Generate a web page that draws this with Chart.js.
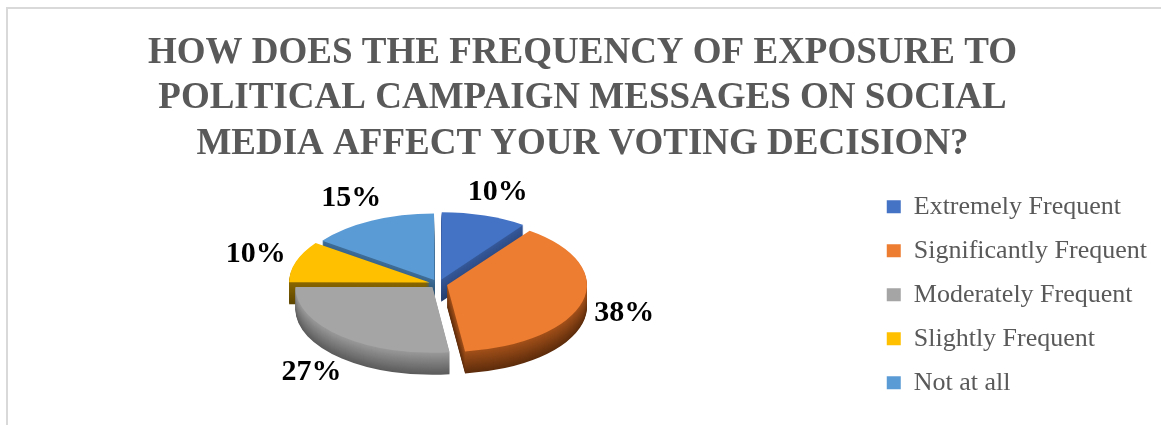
<!DOCTYPE html>
<html>
<head>
<meta charset="utf-8">
<script src="https://cdn.jsdelivr.net/npm/chart.js@4.4.1/dist/chart.umd.min.js"></script>
<style>
  html, body { margin: 0; padding: 0; background: #fff; overflow: hidden; }
  #frame { position: absolute; left: 6px; top: 7px; width: 1160px; height: 420px;
           border-top: 2px solid #d9d9d9; border-left: 2px solid #d9d9d9; }
  #wrap { position: absolute; left: 0; top: 0; width: 1153px; height: 416px; }
</style>
</head>
<body>
<div id="frame"><div id="wrap"><canvas id="votePie"></canvas></div></div>
<script>
var categories = ["Extremely Frequent", "Significantly Frequent", "Moderately Frequent", "Slightly Frequent", "Not at all"];
var shares = [10, 38, 27, 10, 15];
var titleLines = [
  "HOW DOES THE FREQUENCY OF EXPOSURE TO",
  "POLITICAL CAMPAIGN MESSAGES ON SOCIAL",
  "MEDIA AFFECT YOUR VOTING DECISION?"
];

var topColors = ['#4472C4', '#ED7D31', '#A5A5A5', '#FFC000', '#5B9BD5'];
// side walls, [upper edge, lower edge]
var sideColors = [
  ['#36599b', '#263f6e'],
  ['#a4511a', '#5e2d0c'],
  ['#9a9a9a', '#5c5c5c'],
  ['#8a6800', '#5e4600'],
  ['#3f6f9a', '#26455f']
];

var tilt = 0.48;   // vertical squash of the disc
var depth = 22;    // thickness in px
var explode = 36;  // arc offset option (the arc moves by a quarter of it)

function hexRgb(h) {
  return [parseInt(h.substr(1, 2), 16), parseInt(h.substr(3, 2), 16), parseInt(h.substr(5, 2), 16)];
}
function mix(a, b, t) {
  var p = hexRgb(a), q = hexRgb(b);
  return 'rgb(' + p.map(function (v, k) { return Math.round(v + (q[k] - v) * t); }).join(',') + ')';
}
function squash(ctx, cx, cy, dy) {
  ctx.translate(cx, cy + dy);
  ctx.scale(1, tilt);
  ctx.translate(-cx, -cy);
}

var pie3d = {
  id: 'pie3d',
  beforeDatasetsDraw: function (chart) {
    var ctx = chart.ctx;
    var arcs = chart.getDatasetMeta(0).data;
    var cx = arcs[0].x, cy = arcs[0].y;
    // stack darker copies of every slice downward to build the walls
    for (var d = depth; d > 0; d--) {
      var t = d / depth;
      ctx.save();
      squash(ctx, cx, cy, d - depth / 2);
      arcs.forEach(function (arc, i) {
        var opts = arc.options;
        arc.options = Object.assign({}, opts, { backgroundColor: mix(sideColors[i][0], sideColors[i][1], t) });
        arc.draw(ctx);
        arc.options = opts;
      });
      ctx.restore();
    }
    // top faces are drawn by the library under this transform
    ctx.save();
    squash(ctx, cx, cy, -depth / 2);
  },
  afterDatasetsDraw: function (chart) {
    var ctx = chart.ctx;
    ctx.restore();
    var arcs = chart.getDatasetMeta(0).data;
    ctx.save();
    ctx.font = 'bold 30px "Liberation Serif"';
    ctx.fillStyle = '#000';
    ctx.textAlign = 'center';
    ctx.textBaseline = 'middle';
    arcs.forEach(function (arc, i) {
      var text = shares[i] + '%';
      var tw = ctx.measureText(text).width, th = 28;
      var a = (arc.startAngle + arc.endAngle) / 2;
      var c = Math.cos(a), s = Math.sin(a);
      var r = arc.outerRadius + arc.options.offset / 4;
      var x = arc.x + c * (r + 16 + tw / 2);
      var y = arc.y - depth / 2 + s * (r * tilt + 12 + th / 2) + (s > 0 ? s * depth : 0);
      ctx.fillText(text, x, y);
    });
    ctx.restore();
  }
};

new Chart(document.getElementById('votePie'), {
  type: 'pie',
  data: {
    labels: categories,
    datasets: [{
      data: shares,
      backgroundColor: topColors,
      borderWidth: 0,
      offset: explode,
      radius: 137,
      clip: false
    }]
  },
  options: {
    responsive: true,
    maintainAspectRatio: false,
    animation: false,
    events: [],
    layout: { padding: { bottom: 3, right: 4 } },
    plugins: {
      title: {
        display: true,
        text: titleLines,
        color: '#595959',
        font: { family: '"Liberation Serif", serif', size: 37, weight: 'bold', lineHeight: 1.24 },
        padding: { top: 21, bottom: 0 }
      },
      legend: {
        position: 'right',
        fullSize: false,
        labels: {
          color: '#595959',
          font: { family: '"Liberation Serif", serif', size: 26 },
          boxWidth: 14,
          boxHeight: 13,
          padding: 18
        }
      },
      tooltip: { enabled: false }
    }
  },
  plugins: [pie3d]
});
</script>
</body>
</html>
